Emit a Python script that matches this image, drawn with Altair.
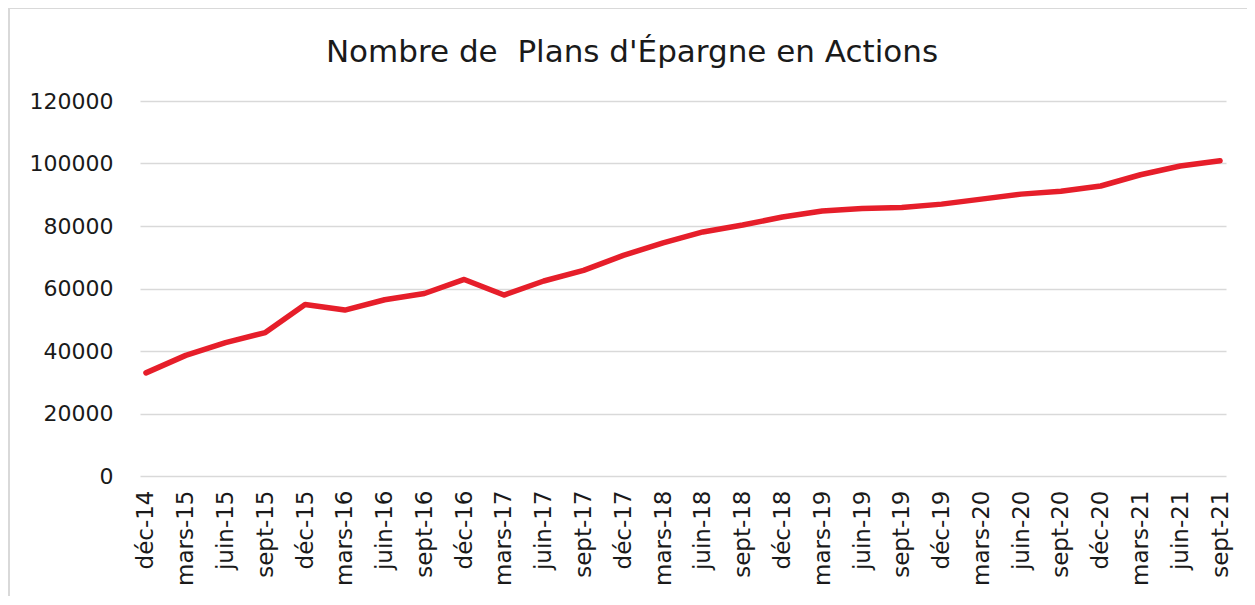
import altair as alt
import pandas as pd

periods = ["déc-14", "mars-15", "juin-15", "sept-15", "déc-15", "mars-16", "juin-16",
           "sept-16", "déc-16", "mars-17", "juin-17", "sept-17", "déc-17", "mars-18",
           "juin-18", "sept-18", "déc-18", "mars-19", "juin-19", "sept-19", "déc-19",
           "mars-20", "juin-20", "sept-20", "déc-20", "mars-21", "juin-21", "sept-21"]
values = [33000, 38600, 42700, 45900, 54900, 53100, 56400, 58400, 62900, 57900,
          62400, 65800, 70600, 74600, 78100, 80300, 82900, 84800, 85600, 85900,
          87000, 88600, 90200, 91100, 92800, 96400, 99200, 100900]
title_text = ["Nombre de\u00a0 Plans d'Épargne en Actions"]

df = pd.DataFrame({"period": periods, "value": values})
tdf = pd.DataFrame({"t": title_text})

FONT = "DejaVu Sans"
W, H = 1086, 375

x = alt.X("period:O", sort=periods,
          scale=alt.Scale(type="point", padding=0.15),
          axis=alt.Axis(title=None, labelAngle=270, labelAlign="right", labelBaseline="middle",
                        labelPadding=14, ticks=False, domain=False, grid=False,
                        labelFont=FONT, labelFontSize=23, labelColor="#1a1a1a"))
y = alt.Y("value:Q",
          scale=alt.Scale(domain=[0, 120000], nice=False),
          axis=alt.Axis(title=None, values=[0, 20000, 40000, 60000, 80000, 100000, 120000],
                        format="d", ticks=False, domain=False, labelPadding=27,
                        gridColor="#d9d9d9", gridWidth=1.5,
                        labelFont=FONT, labelFontSize=22, labelColor="#1a1a1a"))

line = alt.Chart(df).mark_line(color="#e61e2a", strokeWidth=5.5, strokeCap="round",
                               strokeJoin="round").encode(x=x, y=y)

title = alt.Chart(tdf).mark_text(font=FONT, fontSize=31, color="#1a1a1a", align="center",
                                 baseline="alphabetic").encode(
    text="t:N", x=alt.value(492), y=alt.value(-39))

border = alt.Chart(tdf).mark_rule(color="#d9d9d9", strokeWidth=2).encode(
    x=alt.value(-131), x2=alt.value(2000), y=alt.value(-93), y2=alt.value(-93))
border2 = alt.Chart(tdf).mark_rule(color="#d9d9d9", strokeWidth=2).encode(
    x=alt.value(-131), x2=alt.value(-131), y=alt.value(-93), y2=alt.value(2000))

chart = alt.layer(line, title, border, border2).properties(
    width=W, height=H,
    background="white",
    autosize=alt.AutoSizeParams(type="none"),
    padding={"left": 132, "top": 93, "right": 21, "bottom": 120},
).configure_view(strokeWidth=0, stroke="transparent")

chart.save("out.html", embed_options={"renderer": "svg", "actions": False})
